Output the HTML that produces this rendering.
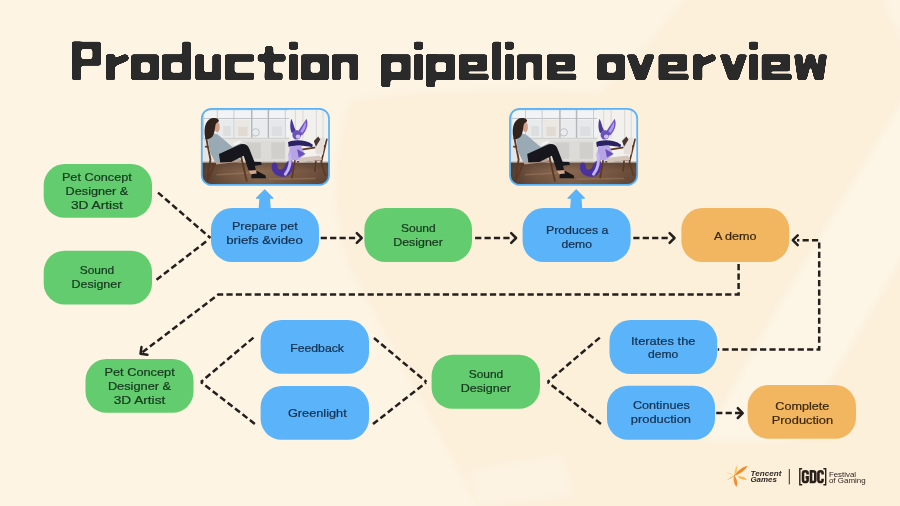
<!DOCTYPE html>
<html><head><meta charset="utf-8">
<style>
html,body{margin:0;padding:0;}
body{width:900px;height:506px;overflow:hidden;position:relative;background:#FDF4E4;font-family:"Liberation Sans",sans-serif;}
svg{position:absolute;left:0;top:0;}
text{font-family:"Liberation Sans",sans-serif;}
</style></head><body>
<svg width="900" height="506" viewBox="0 0 900 506">
<defs>
<filter id="bgb"><feGaussianBlur stdDeviation="3"/></filter>
<filter id="goo" x="0" y="0" width="900" height="120" filterUnits="userSpaceOnUse"><feGaussianBlur in="SourceGraphic" stdDeviation="1.3" result="b"/><feColorMatrix in="b" mode="matrix" values="1 0 0 0 0  0 1 0 0 0  0 0 1 0 0  0 0 0 9 -3.6"/></filter>
</defs>
<!-- background -->
<rect width="900" height="506" fill="#FDF4E4"/>
<g filter="url(#bgb)">
<path d="M350 100 C420 88 540 88 600 92 L650 40 L690 -10 L880 -10 L915 70 L915 520 L485 520 L350 270 C330 220 330 150 350 100Z" fill="#FCF0DB"/>
<path d="M915 80 L775 313 L705 440 L795 440 L915 235Z" fill="#FDF5E6"/>
<path d="M470 470 L560 455 L575 495 L480 506Z" fill="#FDF5E6" opacity=".6"/>
</g>
<!-- boxes -->
<g id="boxes">
<rect x="43.7" y="164" width="108.3" height="53.8" rx="21" fill="#63cc6f"/>
<rect x="43.7" y="250.7" width="108.3" height="53.8" rx="21" fill="#63cc6f"/>
<rect x="211" y="208" width="108.0" height="54.0" rx="21" fill="#5bb3f9"/>
<rect x="364.4" y="208" width="107.6" height="54.0" rx="21" fill="#63cc6f"/>
<rect x="522.6" y="208" width="108.0" height="54.0" rx="21" fill="#5bb3f9"/>
<rect x="681.4" y="208" width="107.8" height="54.0" rx="21" fill="#f3b660"/>
<rect x="85.5" y="359" width="108.0" height="53.8" rx="21" fill="#63cc6f"/>
<rect x="260.6" y="320" width="108.4" height="53.8" rx="21" fill="#5bb3f9"/>
<rect x="260.6" y="386" width="108.4" height="53.8" rx="21" fill="#5bb3f9"/>
<rect x="431.6" y="354.7" width="108.4" height="54.1" rx="21" fill="#63cc6f"/>
<rect x="609.5" y="320" width="107.7" height="54.0" rx="21" fill="#5bb3f9"/>
<rect x="607" y="385.7" width="108.0" height="54.1" rx="21" fill="#5bb3f9"/>
<rect x="747.6" y="385" width="108.4" height="53.8" rx="21" fill="#f3b660"/>
</g>
<g id="ups" fill="#5bb3f9" stroke="#5bb3f9" stroke-width="1.2" stroke-linejoin="round">
<path id="up" d="M264.7 190 L272.9 198.2 L269.4 198.2 L270.2 209 L259.2 209 L260 198.2 L256.5 198.2 Z"/>
<use href="#up" x="311.5"/>
</g>
<g id="labels" font-size="11.5" stroke-width="0.22" opacity=".995">
<text x="61.9" y="180.9" textLength="69.9" lengthAdjust="spacingAndGlyphs" fill="#17381f" stroke="#17381f">Pet Concept</text>
<text x="65.6" y="194.9" textLength="62.7" lengthAdjust="spacingAndGlyphs" fill="#17381f" stroke="#17381f">Designer &amp;</text>
<text x="70.9" y="208.7" textLength="52.0" lengthAdjust="spacingAndGlyphs" fill="#17381f" stroke="#17381f">3D Artist</text>
<text x="79.7" y="273.6" textLength="34.6" lengthAdjust="spacingAndGlyphs" fill="#17381f" stroke="#17381f">Sound</text>
<text x="71.6" y="287.7" textLength="49.7" lengthAdjust="spacingAndGlyphs" fill="#17381f" stroke="#17381f">Designer</text>
<text x="231.9" y="229.6" textLength="65.8" lengthAdjust="spacingAndGlyphs" fill="#14304f" stroke="#14304f">Prepare pet</text>
<text x="226.2" y="243.7" textLength="76.6" lengthAdjust="spacingAndGlyphs" fill="#14304f" stroke="#14304f">briefs &amp;video</text>
<text x="401" y="232" textLength="34.7" lengthAdjust="spacingAndGlyphs" fill="#17381f" stroke="#17381f">Sound</text>
<text x="393.2" y="246" textLength="49.7" lengthAdjust="spacingAndGlyphs" fill="#17381f" stroke="#17381f">Designer</text>
<text x="545.9" y="234.3" textLength="62.5" lengthAdjust="spacingAndGlyphs" fill="#14304f" stroke="#14304f">Produces a</text>
<text x="561.6" y="248.1" textLength="30.4" lengthAdjust="spacingAndGlyphs" fill="#14304f" stroke="#14304f">demo</text>
<text x="713.9" y="239.9" textLength="42.7" lengthAdjust="spacingAndGlyphs" fill="#3a2810" stroke="#3a2810">A demo</text>
<text x="104.5" y="375.5" textLength="70.2" lengthAdjust="spacingAndGlyphs" fill="#17381f" stroke="#17381f">Pet Concept</text>
<text x="107.9" y="389.6" textLength="63.2" lengthAdjust="spacingAndGlyphs" fill="#17381f" stroke="#17381f">Designer &amp;</text>
<text x="113.7" y="403.7" textLength="51.6" lengthAdjust="spacingAndGlyphs" fill="#17381f" stroke="#17381f">3D Artist</text>
<text x="290.2" y="351.6" textLength="53.8" lengthAdjust="spacingAndGlyphs" fill="#14304f" stroke="#14304f">Feedback</text>
<text x="287.9" y="416.6" textLength="58.8" lengthAdjust="spacingAndGlyphs" fill="#14304f" stroke="#14304f">Greenlight</text>
<text x="468.7" y="378.2" textLength="34.6" lengthAdjust="spacingAndGlyphs" fill="#17381f" stroke="#17381f">Sound</text>
<text x="460.7" y="392.4" textLength="50.2" lengthAdjust="spacingAndGlyphs" fill="#17381f" stroke="#17381f">Designer</text>
<text x="631" y="344.6" textLength="64.5" lengthAdjust="spacingAndGlyphs" fill="#14304f" stroke="#14304f">Iterates the</text>
<text x="648" y="358.4" textLength="30.3" lengthAdjust="spacingAndGlyphs" fill="#14304f" stroke="#14304f">demo</text>
<text x="633" y="408.8" textLength="56.7" lengthAdjust="spacingAndGlyphs" fill="#14304f" stroke="#14304f">Continues</text>
<text x="630.8" y="422.7" textLength="60.2" lengthAdjust="spacingAndGlyphs" fill="#14304f" stroke="#14304f">production</text>
<text x="775.3" y="410" textLength="54.1" lengthAdjust="spacingAndGlyphs" fill="#3a2810" stroke="#3a2810">Complete</text>
<text x="771.8" y="423.7" textLength="61.3" lengthAdjust="spacingAndGlyphs" fill="#3a2810" stroke="#3a2810">Production</text>
</g>
<!-- connectors -->
<g fill="none" stroke="#231f1c" stroke-width="2.5">
<g stroke-dasharray="6.2 3.21">
<path d="M158 192.6 L210.5 238"/>
<path d="M156.5 279.8 L206.5 241.2"/>
<path d="M320.7 238 H357"/>
<path d="M475.1 238 H511"/>
<path d="M633.3 238 H669"/>
<path d="M716.2 413.1 H742.5"/>
<path d="M738.6 264.1 V294.5 H218.3 L140.5 353.8"/>
<path d="M717.7 349.4 H819.2 V240.2 H797" stroke-dashoffset="-4.7"/>
<path d="M253.5 337.6 L200.9 382"/>
<path d="M254.8 423.9 L200.9 382"/>
<path d="M374 338 L426.5 382"/>
<path d="M373 424 L426 382.6"/>
<path d="M599.8 337.6 L547.6 382"/>
<path d="M600.9 423.9 L547.6 382"/>
</g>
<g stroke-linecap="round" stroke-linejoin="round">
<path d="M356.8 233.1L361.7 238.0L356.8 242.9"/>
<path d="M511.2 233.1L516.1 238.0L511.2 242.9"/>
<path d="M669.6 233.1L674.5 238.0L669.6 242.9"/>
<path d="M737.8 408.2L742.7 413.1L737.8 418.0"/>
<path d="M797.7 245.1L792.8 240.2L797.7 235.3"/>
<path d="M147.4 354.8L140.5 353.8L141.5 346.9"/>
</g>
</g>
<!-- photos -->

<defs>
<clipPath id="pc"><rect x="22.5" y="22.5" width="757.7" height="453.2" rx="58"/></clipPath>
<filter id="pb" x="-5%" y="-5%" width="110%" height="110%"><feGaussianBlur stdDeviation="2.4"/></filter>
<linearGradient id="flr" x1="0" y1="0" x2="1" y2="0"><stop offset="0" stop-color="#4f3a2e"/><stop offset=".2" stop-color="#755641"/><stop offset=".45" stop-color="#8a6a52"/><stop offset=".75" stop-color="#7a5a45"/><stop offset="1" stop-color="#644838"/></linearGradient>
<linearGradient id="flv" x1="0" y1="0" x2="0" y2="1"><stop offset="0" stop-color="#3a2a20" stop-opacity=".35"/><stop offset=".3" stop-color="#3a2a20" stop-opacity="0"/><stop offset="1" stop-color="#2a1c14" stop-opacity=".25"/></linearGradient>
<g id="photo">
 <g clip-path="url(#pc)"><g filter="url(#pb)">
  <rect x="0" y="0" width="800" height="500" fill="#ecebe8"/>
  <!-- window -->
  <rect x="28" y="22" width="515" height="176" fill="#f1f3f5"/>
  <rect x="120" y="88" width="90" height="101" fill="#e9eaeb"/><rect x="220" y="88" width="92" height="101" fill="#ebe8e3"/>
  <rect x="328" y="88" width="86" height="101" fill="#eaebed"/><rect x="426" y="88" width="88" height="101" fill="#e6e8ea"/>
  <rect x="150" y="125" width="45" height="60" fill="#dcdedf"/><rect x="240" y="130" width="55" height="55" fill="#e0dad2"/><rect x="440" y="128" width="60" height="57" fill="#dcdfe2"/>
  <g stroke="#c2c5c8" stroke-width="5"><path d="M115 22V196M214 26V196M520 22V196"/><path d="M28 81H543" stroke-width="6"/><path d="M28 28H543" stroke-width="8"/></g>
  <path d="M320 22V198M419 22V198" stroke="#b4b7ba" stroke-width="9"/>
  <rect x="22" y="22" width="14" height="320" fill="#cfcfcc"/>
  <!-- curtains -->
  <rect x="541" y="22" width="245" height="320" fill="#f2f1ee"/>
  <g stroke="#dedcd7" stroke-width="7"><path d="M580 30V335M625 30V200M705 30V200M745 30V200"/></g>
  <!-- sill + wall + radiator -->
  <rect x="28" y="194" width="515" height="11" fill="#d2d2cf"/>
  <rect x="28" y="205" width="515" height="135" fill="#e6e5e2"/>
  <rect x="262" y="212" width="258" height="122" fill="#dcdbd7"/>
  <rect x="290" y="224" width="85" height="96" fill="#cfcecb"/><rect x="437" y="224" width="80" height="96" fill="#d0cfcc"/>
  <circle cx="343" cy="163" r="22" fill="#e9ecef" stroke="#b4b8bc" stroke-width="5"/>
  <!-- floor -->
  <rect x="0" y="341" width="800" height="170" fill="url(#flr)"/>
  <rect x="0" y="341" width="800" height="170" fill="url(#flv)"/>
  <rect x="0" y="336" width="800" height="7" fill="#b9b2aa"/>
  <path d="M110 415L300 405M420 440L700 438" stroke="#a58568" stroke-width="9" opacity=".45"/>
  <!-- left chair -->
  <g stroke="#5e3820" stroke-width="11" fill="none" stroke-linecap="round">
   <path d="M50 202L74 325L55 448"/><path d="M46 248L270 280"/><path d="M252 286L290 452"/><path d="M82 352L255 334"/><path d="M100 352L62 440"/>
  </g>
  <path d="M102 330L248 318L258 336L108 354Z" fill="#b7a195"/>
  <!-- woman -->
  <path d="M58 185C70 165 112 162 132 188L205 250L232 236L258 226L264 246L198 284L152 332L100 338L66 270Z" fill="#9aaab5"/>
  <path d="M125 292L240 240C272 224 296 236 306 262L336 338L375 340L380 356L338 362L345 388L302 392L272 302L198 340L132 342Z" fill="#15151a"/>
  <path d="M318 412L350 392L402 420L405 436L318 436Z" fill="#131313"/>
  <path d="M300 392L345 388L350 408L315 412Z" fill="#d2a58c"/>
  <ellipse cx="114" cy="132" rx="15" ry="29" fill="#d4a087"/>
  <path d="M44 202C26 120 58 72 100 78C128 82 130 100 116 104C100 108 104 138 96 166C90 192 72 208 44 202Z" fill="#33241e"/>
  <rect x="212" y="220" width="42" height="15" fill="#f3f3f1" transform="rotate(-22 233 227)"/>
  <!-- right chair -->
  <g stroke="#5e3820" stroke-width="10" fill="none" stroke-linecap="round">
   <path d="M767 205L734 340L758 418"/><path d="M552 276L758 243"/><path d="M584 290L560 432"/><path d="M594 338L738 324"/><path d="M702 330L696 392"/>
  </g>
  <path d="M593 316L724 300L740 326L604 344Z" fill="#d4c6bd"/>
  <path d="M694 200L756 194L744 296L700 290Z" fill="#e6dfd9"/>
  <path d="M690 214L716 188L728 206L702 248Z" fill="#463632"/>
  <!-- creature -->
  <path d="M556 82C566 100 570 130 582 150L560 168C548 150 546 110 556 82Z" fill="#4c3796"/>
  <path d="M645 82C660 110 650 150 620 180L592 172C600 140 625 120 645 82Z" fill="#6f55c6"/>
  <path d="M640 100C648 122 640 145 622 165L608 160C618 140 630 125 640 100Z" fill="#b09ae8"/>
  <ellipse cx="588" cy="178" rx="26" ry="28" fill="#6a52b8"/>
  <ellipse cx="596" cy="188" rx="14" ry="13" fill="#cdbff0"/>
  <path d="M536 222C570 205 640 205 684 236L680 252C640 240 580 240 540 250Z" fill="#2b2062"/>
  <path d="M546 246L612 240L636 296L590 330L540 326Z" fill="#b6a4e6"/>
  <path d="M590 262L640 290L600 312Z" fill="#6a50b8"/>
  <path d="M560 328C575 380 556 428 506 428C456 428 426 388 444 346C462 336 476 350 474 368C474 388 504 394 516 364C524 344 538 326 560 328Z" fill="#4a309e"/>
  <path d="M545 292C556 330 548 380 520 412" stroke="#c3b3ee" stroke-width="18" fill="none" stroke-linecap="round"/>
 </g></g>
 <rect x="22.5" y="22.5" width="757.7" height="453.2" rx="58" fill="none" stroke="#5bb2f5" stroke-width="10.5"/>
</g>
</defs>
<use href="#photo" transform="translate(198,105) scale(0.16792)"/>
<use href="#photo" transform="translate(506.2,105) scale(0.16792)"/>

<!-- logo -->

<g id="tg">
<path d="M734.7 475.2Q730.4 472.7 725.4 472.2Q729.7 474.7 734.7 475.2Z" fill="#f5cf8c" opacity="0.9"/>
<path d="M735.0 475.0Q730.0 477.1 726.0 480.8Q731.0 478.7 735.0 475.0Z" fill="#e9953f" opacity="0.9"/>
<path d="M734.6 475.6Q738.0 470.9 737.2 465.2Q733.8 469.9 734.6 475.6Z" fill="#f8c85a" opacity="1"/>
<path d="M737.6 476.6Q741.6 480.8 747.2 479.6Q743.2 475.4 737.6 476.6Z" fill="#f7b94f" opacity="1"/>
<path d="M734.0 474.6Q732.5 483.8 736.6 486.8Q739.1 482.4 734.0 474.6Z" fill="#f0903a" opacity="1"/>
<path d="M733.6 476.2Q743.4 473.2 747.8 465.8Q739.4 467.7 733.6 476.2Z" fill="#f28c2a" opacity="1"/>
</g>
<g font-family="'Liberation Sans',sans-serif" fill="#2b2622" opacity=".99">
 <text x="750.6" y="475.9" font-size="7.6" font-weight="bold" font-style="italic" textLength="30.8" lengthAdjust="spacingAndGlyphs">Tencent</text>
 <text x="750.4" y="482.3" font-size="7.6" font-weight="bold" font-style="italic" textLength="26.6" lengthAdjust="spacingAndGlyphs">Games</text>
 <text x="828.9" y="476.8" font-size="7.8" fill="#2c231d" textLength="27.2" lengthAdjust="spacingAndGlyphs">Festival</text>
 <text x="828.9" y="482.8" font-size="7.8" fill="#2c231d" textLength="36.8" lengthAdjust="spacingAndGlyphs">of Gaming</text>
</g>
<path d="M789.3 469V484.4" stroke="#3a2c20" stroke-width="1"/>
<g fill="none" stroke="#2a2018" stroke-width="1.4">
 <path d="M802.2 468.7H799.8V484.7H802.2"/><path d="M823.4 468.7H825.7V484.7H823.4"/>
</g>
<g fill="none" stroke="#2a2018" stroke-width="2.6">
 <path d="M807.6 474.6V473.1Q807.6 471.3 805.3 471.3Q803 471.3 803 473.1V480.2Q803 482 805.3 482Q807.6 482 807.6 480.2V477.4H805.6"/>
 <path d="M811 471.3V482H812.8Q815.3 482 815.3 480.2V473.1Q815.3 471.3 812.8 471.3Z"/>
 <path d="M822.6 474.6V473.1Q822.6 471.3 820.5 471.3Q818.4 471.3 818.4 473.1V480.2Q818.4 482 820.5 482Q822.6 482 822.6 480.2V478.7"/>
</g>

<!-- title -->
<g filter="url(#goo)" fill="#2a2a2a" fill-rule="evenodd">
<path d="M72.1 41.7H81.1V80.1H72.1Z"/><path d="M72.1 41.7H100.8V65.6H72.1ZM81.1 49.0H92.6V58.9H81.1Z"/><path d="M106.0 54.4H115.0V80.1H106.0Z"/><path d="M131.3 54.4H158.6V80.1H131.3ZM140.5 62.2H149.8V72.8H140.5Z"/><path d="M162.0 54.4H190.8V80.1H162.0ZM171.0 62.2H182.2V72.8H171.0Z"/><path d="M182.2 41.7H190.8V80.1H182.2Z"/><path d="M195.4 54.4H204.0V72.2H212.5V54.4H221.1V80.1H195.4Z"/><path d="M225 54.4H254.1V61.4H234.4V72.7H254.1V80.1H225Z"/><path d="M257.7 54.4H285.5V61.5H257.7Z"/><path d="M264.8 46.4H273.3V80.1H264.8Z"/><path d="M264.8 72.7H282.5V80.1H264.8Z"/><path d="M289.0 54.4H297.9V80.1H289.0Z"/><path d="M289.0 41.7H297.9V49.6H289.0Z"/><path d="M301.2 54.4H328.6V80.1H301.2ZM310.4 62.2H319.8V72.8H310.4Z"/><path d="M332 54.4H358.2V80.1H349.59999999999997V62.2H340.8V80.1H332Z"/><path d="M381.2 54.4H410.4V80.1H381.2ZM390.3 62.2H401.6V72.0H390.3Z"/><path d="M381.2 54.4H390.3V87.0H381.2Z"/><path d="M414.0 54.4H423.0V80.1H414.0Z"/><path d="M414.0 41.7H423.0V49.6H414.0Z"/><path d="M426.1 54.4H455.1V80.1H426.1ZM435.2 62.2H446.3V72.0H435.2Z"/><path d="M426.1 54.4H435.2V87.0H426.1Z"/><path d="M458.9 54.4H486.9V71.2H467.7V73.8H488.5V80.1H458.9ZM467.7 61.6H477.9V65.2H467.7Z"/><path d="M492.4 41.7H501.1V80.1H492.4Z"/><path d="M504.8 54.4H513.7V80.1H504.8Z"/><path d="M504.8 41.7H513.7V49.6H504.8Z"/><path d="M517.2 54.4H542.2V80.1H533.6V62.2H526.0V80.1H517.2Z"/><path d="M547 54.4H574.6999999999999V71.2H555.8V73.8H576.3V80.1H547ZM555.8 61.6H565.7V65.2H555.8Z"/><path d="M597.4 54.4H624.6V80.1H597.4ZM606.6 62.2H615.8V72.8H606.6Z"/><path d="M626.5 54.4L636.1 54.4L640.8 67.6L645.4 54.4L655 54.4L645.6 80.1L635.9 80.1Z"/><path d="M658.6 54.4H686.9V71.2H667.4V73.8H688.5V80.1H658.6ZM667.4 61.6H677.9V65.2H667.4Z"/><path d="M693.3 54.4H702.3V80.1H693.3Z"/><path d="M719.6 54.4L729.2 54.4L733.5 67.6L737.6999999999999 54.4L747.3 54.4L738.4 80.1L728.6 80.1Z"/><path d="M749.0 54.4H758.0V80.1H749.0Z"/><path d="M749.0 41.7H758.0V49.6H749.0Z"/><path d="M761.7 54.4H790.0V71.2H770.5V73.8H791.6V80.1H761.7ZM770.5 61.6H781.0V65.2H770.5Z"/><path d="M794.1 54.4L802.3000000000001 54.4L803.2 70L806.6 54.4L814.4 54.4L817.9 70L818.8 54.4L827 54.4L823.4 80.1L814.6 80.1L810.5 65L806.5 80.1L797.7 80.1Z"/>
<line x1="111.5" y1="63.6" x2="125.1" y2="57.9" stroke="#2a2a2a" stroke-width="7.2" stroke-linecap="round"/>
<line x1="698.8" y1="63.6" x2="712.2" y2="57.9" stroke="#2a2a2a" stroke-width="7.2" stroke-linecap="round"/>
</g>

</svg>
</body></html>
